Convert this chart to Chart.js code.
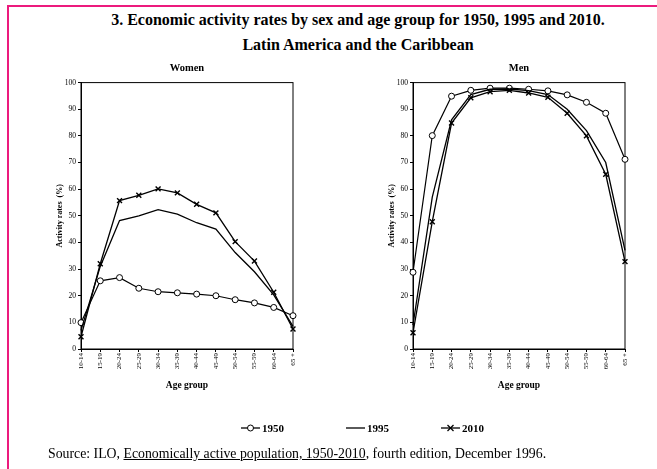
<!DOCTYPE html>
<html><head><meta charset="utf-8">
<script src="https://cdn.jsdelivr.net/npm/chart.js@4/dist/chart.umd.min.js"></script>
<style>
html,body{margin:0;padding:0;background:#fff;}
#wrap{position:relative;width:657px;height:469px;overflow:hidden;font-family:"Liberation Serif","Times New Roman",serif;color:#000;}
canvas{position:absolute;left:0;top:0;}
.fTop{position:absolute;left:7px;top:5px;width:650px;height:2px;background:#ec1a7d;}
.fLeft{position:absolute;left:7px;top:5px;width:2px;height:464px;background:#ec1a7d;}
.title{position:absolute;left:0;width:716px;text-align:center;font-weight:bold;font-size:16px;line-height:18px;white-space:nowrap;}
.leg{position:absolute;top:420px;font-weight:bold;font-size:11px;line-height:16px;white-space:nowrap;display:flex;align-items:center;}
.leg svg{display:block;margin-right:2px;}
.src{position:absolute;left:48px;top:446px;font-size:13.8px;line-height:16px;white-space:nowrap;}
.src u{text-decoration:underline;}
</style></head>
<body>
<div id="wrap">
  <div class="fTop"></div><div class="fLeft"></div>
  <div class="title" style="top:11px">3. Economic activity rates by sex and age group for 1950, 1995 and 2010.</div>
  <div class="title" style="top:36px">Latin America and the Caribbean</div>
  <canvas id="cw" width="657" height="469"></canvas>
  <canvas id="cm" width="657" height="469"></canvas>
  <div class="leg" style="left:241px"><svg width="19" height="10"><line x1="0" y1="5" x2="19" y2="5" stroke="#000" stroke-width="1.3"/><circle cx="9.5" cy="5" r="3" fill="#fff" stroke="#000" stroke-width="1"/></svg><span>1950</span></div>
  <div class="leg" style="left:346px"><svg width="19" height="10"><line x1="0" y1="5" x2="19" y2="5" stroke="#000" stroke-width="1.3"/></svg><span>1995</span></div>
  <div class="leg" style="left:441px"><svg width="19" height="10"><line x1="0" y1="5" x2="19" y2="5" stroke="#000" stroke-width="1.3"/><line x1="6.5" y1="2" x2="12.5" y2="8" stroke="#000" stroke-width="1.3"/><line x1="6.5" y1="8" x2="12.5" y2="2" stroke="#000" stroke-width="1.3"/></svg><span>2010</span></div>
  <div class="src">Source: ILO, <u>Economically active population, 1950-2010</u>, fourth edition, December 1996.</div>
</div>
<script>
const ageGroups = ['10-14','15-19','20-24','25-29','30-34','35-39','40-44','45-49','50-54','55-59','60-64','65 +'];
const women1950 = [9.9, 25.6, 26.8, 22.8, 21.5, 21.1, 20.6, 20.0, 18.5, 17.3, 15.6, 12.5];
const women1995 = [7.0, 31.0, 48.2, 50.0, 52.3, 50.6, 47.4, 45.0, 36.2, 29.0, 20.3, 8.5];
const women2010 = [4.6, 32.0, 55.7, 57.7, 60.1, 58.6, 54.3, 51.1, 40.3, 33.0, 21.3, 7.5];
const men1950 = [28.8, 80.1, 94.9, 97.1, 97.9, 97.9, 97.5, 96.9, 95.4, 92.6, 88.5, 71.2];
const men1995 = [9.0, 57.0, 86.0, 95.5, 97.5, 97.6, 97.0, 95.5, 90.0, 82.0, 70.0, 37.0];
const men2010 = [6.1, 47.8, 84.8, 94.3, 96.6, 97.1, 96.1, 94.5, 88.5, 80.0, 65.6, 32.8];
const seriesNames = ['1950','1995','2010'];

const SERIF = '"Liberation Serif","Times New Roman",serif';

const framePlugin = {
  id: 'frame',
  beforeDatasetsDraw(chart) {
    const {ctx, chartArea: a} = chart;
    ctx.save();
    ctx.strokeStyle = '#000';
    ctx.lineWidth = 1;
    ctx.strokeRect(a.left, a.top, a.right - a.left, a.bottom - a.top);
    ctx.restore();
  }
};

function makeChart(id, title, d1950, d1995, d2010, padLeft, padRight) {
  return new Chart(document.getElementById(id), {
    type: 'line',
    data: {
      labels: ageGroups,
      datasets: [
        {label: seriesNames[1], data: d1995, borderColor: '#000', borderWidth: 1.3, pointRadius: 0, tension: 0, clip: false},
        {label: seriesNames[2], data: d2010, borderColor: '#000', borderWidth: 1.3, pointStyle: 'crossRot', pointRadius: 3.5, pointBorderWidth: 1.4, pointBorderColor: '#000', tension: 0, clip: false},
        {label: seriesNames[0], data: d1950, borderColor: '#000', borderWidth: 1.2, pointStyle: 'circle', pointRadius: 3, pointBackgroundColor: '#fff', pointBorderColor: '#000', pointBorderWidth: 1, tension: 0, clip: false}
      ]
    },
    options: {
      responsive: false,
      animation: false,
      events: [],
      layout: {padding: {left: padLeft, right: padRight, top: 62, bottom: 78}},
      plugins: {
        legend: {display: false},
        tooltip: {enabled: false},
        title: {display: true, text: title, color: '#000', fullSize: false,
                font: {family: SERIF, size: 10.5, weight: 'bold'}, padding: {top: 0, bottom: 8}}
      },
      scales: {
        x: {
          type: 'category', offset: false,
          grid: {display: true, drawOnChartArea: false, drawTicks: true, tickLength: 3, color: '#000'},
          border: {display: true, color: '#000', width: 1},
          ticks: {color: '#000', font: {family: SERIF, size: 7}, minRotation: 90, maxRotation: 90, padding: 1, autoSkip: false},
          title: {display: true, text: 'Age group', color: '#000', font: {family: SERIF, size: 9.5, weight: 'bold'}, padding: 0},
          afterFit(s) { s.height = 42; s.paddingLeft = 0; s.paddingRight = 0; }
        },
        y: {
          min: 0, max: 100,
          grid: {display: true, drawOnChartArea: false, drawTicks: true, tickLength: 3, color: '#000'},
          border: {display: true, color: '#000', width: 1},
          ticks: {stepSize: 10, color: '#000', font: {family: SERIF, size: 7.5}, padding: 2},
          title: {display: true, text: 'Activity rates  (%)', color: '#000', font: {family: SERIF, size: 8, weight: 'bold'}, padding: 0},
          afterFit(s) { s.width = 26; s.paddingTop = 0; s.paddingBottom = 0; }
        }
      }
    },
    plugins: [framePlugin]
  });
}

makeChart('cw', 'Women', women1950, women1995, women2010, 55, 364);
makeChart('cm', 'Men', men1950, men1995, men2010, 387, 32);
</script>
</body></html>
